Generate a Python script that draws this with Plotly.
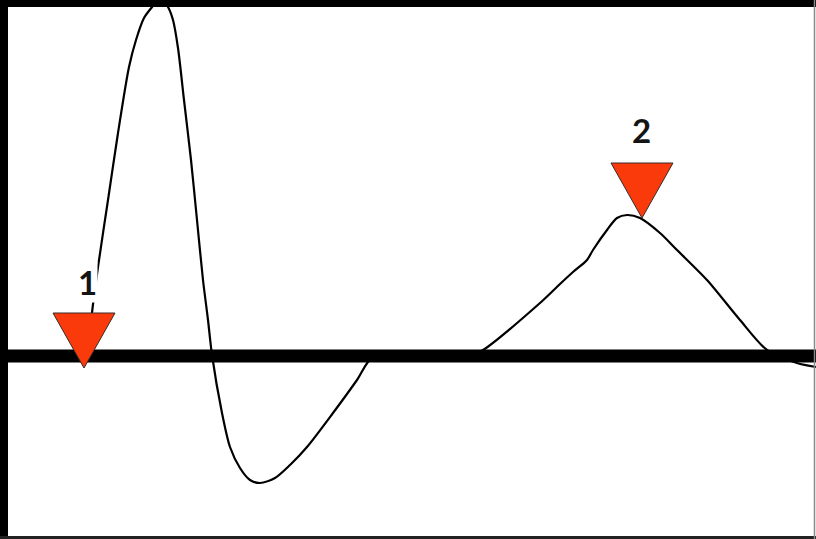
import plotly.graph_objects as go

# Trace (x in samples, amplitude relative to baseline)
trace_x = [90, 92, 98, 108, 118, 129, 136, 144, 152, 160, 168, 173, 178, 184, 191,
           197, 203, 208, 212, 222, 230, 240, 250, 260, 275, 290, 307, 333, 357, 372,
           400, 435, 450, 465, 483, 540, 560, 573, 587, 593, 607, 617, 627, 640, 660,
           677, 707, 740, 767, 797, 816]
trace_y = [16, 43, 89, 156, 223, 289, 316, 338, 349, 359, 349, 336, 308, 256, 196,
           136, 76, 36, 1, -57, -91, -112, -124, -127, -122, -109, -91, -57, -24, -2,
           -1, -1, -5, -1, 6, 53, 72, 84, 96, 106, 126, 138, 141, 138, 123,
           106, 76, 36, 6, -7, -11]

# Picks (apex positions) and labels
pick_x = [84, 642]
pick_y = [-12, 138]
pick_labels = ["1", "2"]
label_x = [87, 641]
label_y = [74, 226]

TRI_HALF_W = 31
TRI_H = 55

fig = go.Figure()

fig.add_trace(go.Scatter(
    x=trace_x, y=trace_y, mode="lines",
    line=dict(color="black", width=2.2, shape="spline", smoothing=0.8),
    hoverinfo="skip", showlegend=False,
))

for px, py in zip(pick_x, pick_y):
    fig.add_trace(go.Scatter(
        x=[px - TRI_HALF_W, px + TRI_HALF_W, px, px - TRI_HALF_W],
        y=[py + TRI_H, py + TRI_H, py, py + TRI_H],
        mode="lines", fill="toself", fillcolor="#FA3A0A",
        line=dict(color="#3a2a2a", width=1),
        hoverinfo="skip", showlegend=False,
    ))

for lx, ly, t in zip(label_x, label_y, pick_labels):
    fig.add_annotation(
        x=lx, y=ly, text="<b>%s</b>" % t, showarrow=False,
        font=dict(family="Lato, Open Sans, sans-serif", size=33, color="#141414"),
        bgcolor="white", borderpad=0,
    )

# baseline
fig.add_shape(type="line", xref="x", yref="y", x0=8, x1=816, y0=0, y1=0,
              line=dict(color="black", width=13), layer="below")

# frame
fig.add_shape(type="rect", xref="paper", yref="paper", x0=0, x1=8/816, y0=0, y1=1,
              fillcolor="black", line=dict(width=0), layer="above")
fig.add_shape(type="rect", xref="paper", yref="paper", x0=0, x1=1, y0=1-7/539, y1=1,
              fillcolor="black", line=dict(width=0), layer="above")
fig.add_shape(type="rect", xref="paper", yref="paper", x0=0, x1=1, y0=0, y1=3/539,
              fillcolor="#222222", line=dict(width=0), layer="above")
fig.add_shape(type="line", xref="paper", yref="paper", x0=1-1.5/816, x1=1-1.5/816, y0=0, y1=1,
              line=dict(color="#888888", width=1.5), layer="above")

fig.update_layout(
    width=816, height=539,
    margin=dict(l=0, r=0, t=0, b=0),
    paper_bgcolor="white", plot_bgcolor="white",
    xaxis=dict(range=[0, 816], visible=False, fixedrange=True),
    yaxis=dict(range=[-183, 356], visible=False, fixedrange=True),
    showlegend=False,
)

fig.write_html(
    "out.html",
    config={"displayModeBar": False},
    post_script="document.body.style.margin='0';document.body.style.overflow='hidden';",
)
